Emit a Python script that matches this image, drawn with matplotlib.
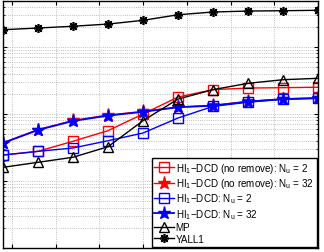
import numpy as np
import matplotlib
matplotlib.use("Agg")
import matplotlib.pyplot as plt
from matplotlib.ticker import LogLocator, NullFormatter

plt.rcParams['font.family'] = ['Liberation Sans', 'DejaVu Sans']
plt.rcParams['mathtext.fontset'] = 'custom'
plt.rcParams['mathtext.rm'] = 'Liberation Sans'
plt.rcParams['mathtext.it'] = 'Liberation Sans'

# data (x = 4..40, log-scale y)
x = [4, 8, 12, 16, 20, 24, 28, 32, 36, 40]
red_sq = [0.0244, 0.0277, 0.0392, 0.0564, 0.100, 0.179, 0.231, 0.244, 0.247, 0.251]
red_star = [0.0372, 0.0585, 0.0800, 0.0965, 0.109, 0.127, 0.135, 0.154, 0.168, 0.174]
blue_sq = [0.0244, 0.0277, 0.0311, 0.0399, 0.052, 0.0871, 0.130, 0.150, 0.166, 0.171]
blue_star = [0.0369, 0.0577, 0.0787, 0.0944, 0.108, 0.126, 0.133, 0.153, 0.167, 0.173]
mp = [0.0160, 0.0190, 0.0226, 0.0325, 0.0794, 0.167, 0.231, 0.287, 0.325, 0.341]
yall1 = [1.81, 1.92, 2.04, 2.20, 2.50, 3.03, 3.33, 3.44, 3.48, 3.53]

labels = [r'HI$_1$$-$DCD (no remove): N$_u$ = 2',
          r'HI$_1$$-$DCD (no remove): N$_u$ = 32',
          r'HI$_1$$-$DCD: N$_u$ = 2',
          r'HI$_1$$-$DCD: N$_u$ = 32',
          'MP',
          'YALL1']

fig = plt.figure(figsize=(3.24, 2.53), dpi=100)
ax = fig.add_axes([3 / 324, 1 - 249 / 253, 315 / 324, 247 / 253])

ms = 6.5
ax.plot(x, red_sq, color='red', lw=1, marker='s', ms=ms, mfc='none', mec='red', mew=1, label=labels[0])
ax.plot(x, red_star, color='red', lw=1, marker='*', ms=ms + 3, mfc='red', mec='red', label=labels[1])
ax.plot(x, blue_sq, color='blue', lw=1, marker='s', ms=ms, mfc='none', mec='blue', mew=1, label=labels[2])
ax.plot(x, blue_star, color='blue', lw=1.3, marker='*', ms=ms + 3, mfc='blue', mec='blue', label=labels[3])
ax.plot(x, mp, color='black', lw=1, marker='^', ms=ms + 1, mfc='none', mec='black', mew=1, label=labels[4])
ax.plot(x, yall1, color='black', lw=1, marker=(8, 2, 0), ms=ms, mec='black', mew=1.2, label=labels[5])

ax.set_yscale('log')
ax.set_xlim(4, 40)
ax.set_ylim(1e-3, 4.86)
ax.set_xticks(np.arange(5, 41, 5))
ax.yaxis.set_major_locator(LogLocator(base=10, numticks=10))
ax.yaxis.set_minor_locator(LogLocator(base=10, subs=np.arange(2, 10), numticks=20))
ax.xaxis.set_major_formatter(NullFormatter())
ax.yaxis.set_major_formatter(NullFormatter())
ax.yaxis.set_minor_formatter(NullFormatter())
ax.tick_params(which='both', direction='in', top=True, right=True, length=3)
ax.tick_params(which='minor', length=1.5)
ax.grid(True, which='major', linestyle=':', color='#aaaaaa', lw=0.6)
ax.grid(True, which='minor', axis='y', linestyle=':', color='#aaaaaa', lw=0.6)
for s in ax.spines.values():
    s.set_linewidth(1)

leg = ax.legend(loc='lower right', fontsize=7.1, frameon=True, fancybox=False,
                edgecolor='black', framealpha=1, borderaxespad=0.15,
                handlelength=2.0, handletextpad=0.15, labelspacing=0.15,
                borderpad=0.3)
leg.get_frame().set_linewidth(1)

fig.savefig('out.png', dpi=100)
